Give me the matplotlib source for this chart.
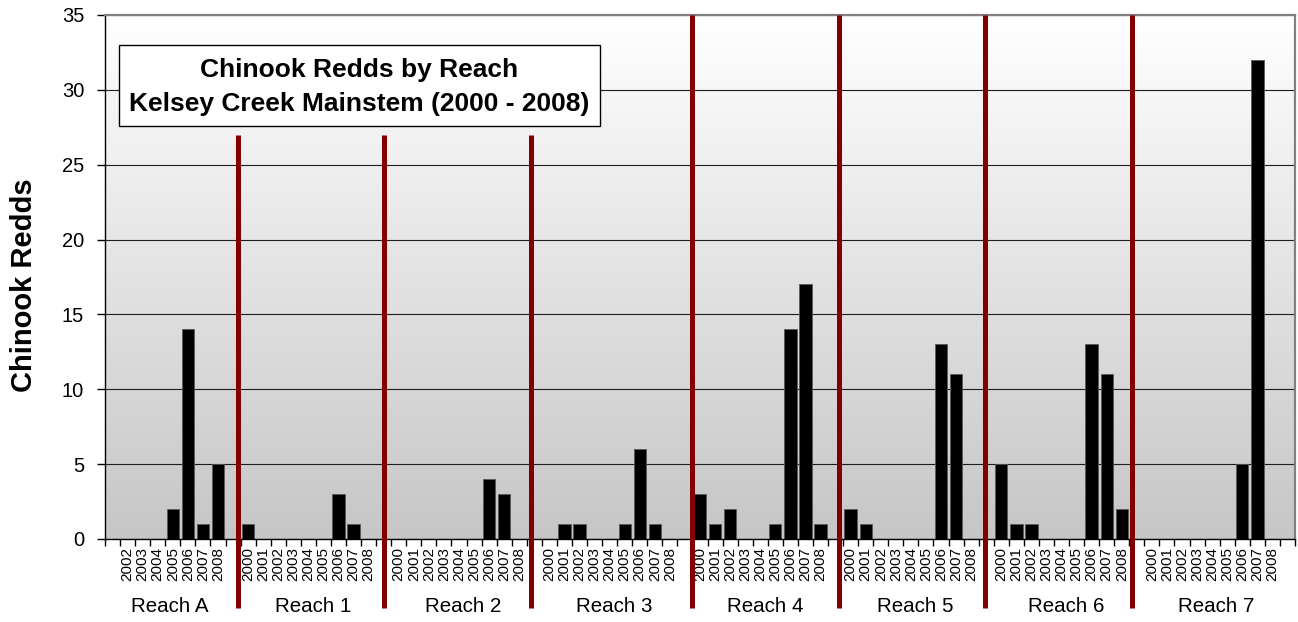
import numpy as np
import matplotlib
matplotlib.use("Agg")
import matplotlib.pyplot as plt
from matplotlib.patches import Rectangle
from matplotlib.ticker import FixedLocator, MultipleLocator

plt.rcParams['font.family'] = ['Liberation Sans', 'DejaVu Sans']

# ---- data -------------------------------------------------------------
reach_names = ['Reach A', 'Reach 1', 'Reach 2', 'Reach 3',
               'Reach 4', 'Reach 5', 'Reach 6', 'Reach 7']
years_all = ['2000', '2001', '2002', '2003', '2004', '2005', '2006', '2007', '2008']
years_reach_a = ['2002', '2003', '2004', '2005', '2006', '2007', '2008']

redds_reach_a = [0, 0, 0, 2, 14, 1, 5]
redds_reach_1 = [1, 0, 0, 0, 0, 0, 3, 1, 0]
redds_reach_2 = [0, 0, 0, 0, 0, 0, 4, 3, 0]
redds_reach_3 = [0, 1, 1, 0, 0, 1, 6, 1, 0]
redds_reach_4 = [3, 1, 2, 0, 0, 1, 14, 17, 1]
redds_reach_5 = [2, 1, 0, 0, 0, 0, 13, 11, 0]
redds_reach_6 = [5, 1, 1, 0, 0, 0, 13, 11, 2]
redds_reach_7 = [0, 0, 0, 0, 0, 0, 5, 32, 0]

reach_years = [years_reach_a] + [years_all] * 7
reach_values = [redds_reach_a, redds_reach_1, redds_reach_2, redds_reach_3,
                redds_reach_4, redds_reach_5, redds_reach_6, redds_reach_7]

# small hand adjustments of the reach divider lines (in category slots)
divider_nudge = [0.3, 0.05, -0.2, 0.45, 0.2, -0.05, -0.3]
# dividers that stop under the title box
divider_short = [True, True, True, False, False, False, False]

# ---- figure -----------------------------------------------------------
W, H = 1298, 622
fig = plt.figure(figsize=(W / 100, H / 100), dpi=100)
fig.patch.set_facecolor('white')
ax = fig.add_axes([105 / W, 1 - 539 / H, (1295 - 105) / W, (539 - 15) / H])

ymax = 35
# one empty slot before Reach A, one empty slot after every reach
slot = 1
tick_pos, tick_lab = [], []
centers, separators = [], []
for i, (name, yrs, vals) in enumerate(zip(reach_names, reach_years, reach_values)):
    block_start = 0 if i == 0 else slot
    xs = np.arange(slot, slot + len(yrs))
    ax.bar(xs, vals, width=0.82, color='black', edgecolor='#5a5a5a',
           linewidth=0.6, zorder=3)
    tick_pos.extend(xs)
    tick_lab.extend(yrs)
    sep = slot + len(yrs)
    separators.append(sep)
    centers.append((block_start + sep) / 2 - 0.2)
    slot = sep + 1

nslots = slot
ax.set_xlim(-0.5, nslots - 0.5)
ax.set_ylim(0, ymax)

# gradient plot-area background
grad = np.linspace(1.0, 0.0, 256).reshape(-1, 1)
top_c, bot_c = 1.0, 198 / 255
img = np.dstack([bot_c + (top_c - bot_c) * grad] * 3)
ax.imshow(img, extent=[-0.5, nslots - 0.5, 0, ymax], aspect='auto',
          origin='upper', zorder=0, interpolation='bilinear')

# gridlines
ax.yaxis.set_major_locator(MultipleLocator(5))
ax.grid(axis='y', color='#1e1e1e', linewidth=0.8, zorder=1)
ax.set_axisbelow(False)
for gl in ax.get_ygridlines():
    gl.set_zorder(1)

# axes frame
for s in ['top', 'right']:
    ax.spines[s].set_color('#808080')
    ax.spines[s].set_linewidth(1.6)
for s in ['left', 'bottom']:
    ax.spines[s].set_color('black')
    ax.spines[s].set_linewidth(1.0)
for s in ax.spines.values():
    s.set_zorder(4)

# y ticks
ax.tick_params(axis='y', direction='out', length=6, width=1.0, color='black',
               labelsize=14.5, pad=9)

# x ticks: labels at categories, marks at slot boundaries
ax.set_xticks(tick_pos)
ax.set_xticklabels(tick_lab, rotation=90, fontsize=11)
ax.tick_params(axis='x', which='major', length=0, pad=6)
ax.xaxis.set_minor_locator(FixedLocator(np.arange(-0.5, nslots, 1.0)))
ax.tick_params(axis='x', which='minor', direction='out', length=5, width=1.0,
               color='black')

# reach names under the years
for name, c in zip(reach_names, centers):
    ax.text(c, -4.52, name, ha='center', va='center', fontsize=14.8,
            clip_on=False)

# red reach dividers
for sep, nudge, short in zip(separators[:-1], divider_nudge, divider_short):
    x = sep + nudge
    ytop = 27.0 if short else ymax
    ax.plot([x, x], [-4.6, ytop], color='#800000', linewidth=3.6,
            solid_capstyle='butt', clip_on=False, zorder=5)

# y axis title
fig.text(24 / W, 1 - 285 / H, 'Chinook Redds', rotation=90, ha='center',
         va='center', fontsize=21, fontweight='bold')

# chart title in a box
bx0, bx1, by0, by1 = 119, 600, 45, 126
fig.patches.append(Rectangle((bx0 / W, 1 - by1 / H), (bx1 - bx0) / W,
                             (by1 - by0) / H, transform=fig.transFigure,
                             facecolor='white', edgecolor='black',
                             linewidth=1.0, zorder=10))
fig.text(359 / W, 1 - 70 / H, 'Chinook Redds by Reach', ha='center',
         va='center', fontsize=19, fontweight='bold', zorder=11)
fig.text(359 / W, 1 - 104 / H, 'Kelsey Creek Mainstem (2000 - 2008)',
         ha='center', va='center', fontsize=19, fontweight='bold', zorder=11)

fig.savefig('out.png', dpi=100, facecolor='white')
